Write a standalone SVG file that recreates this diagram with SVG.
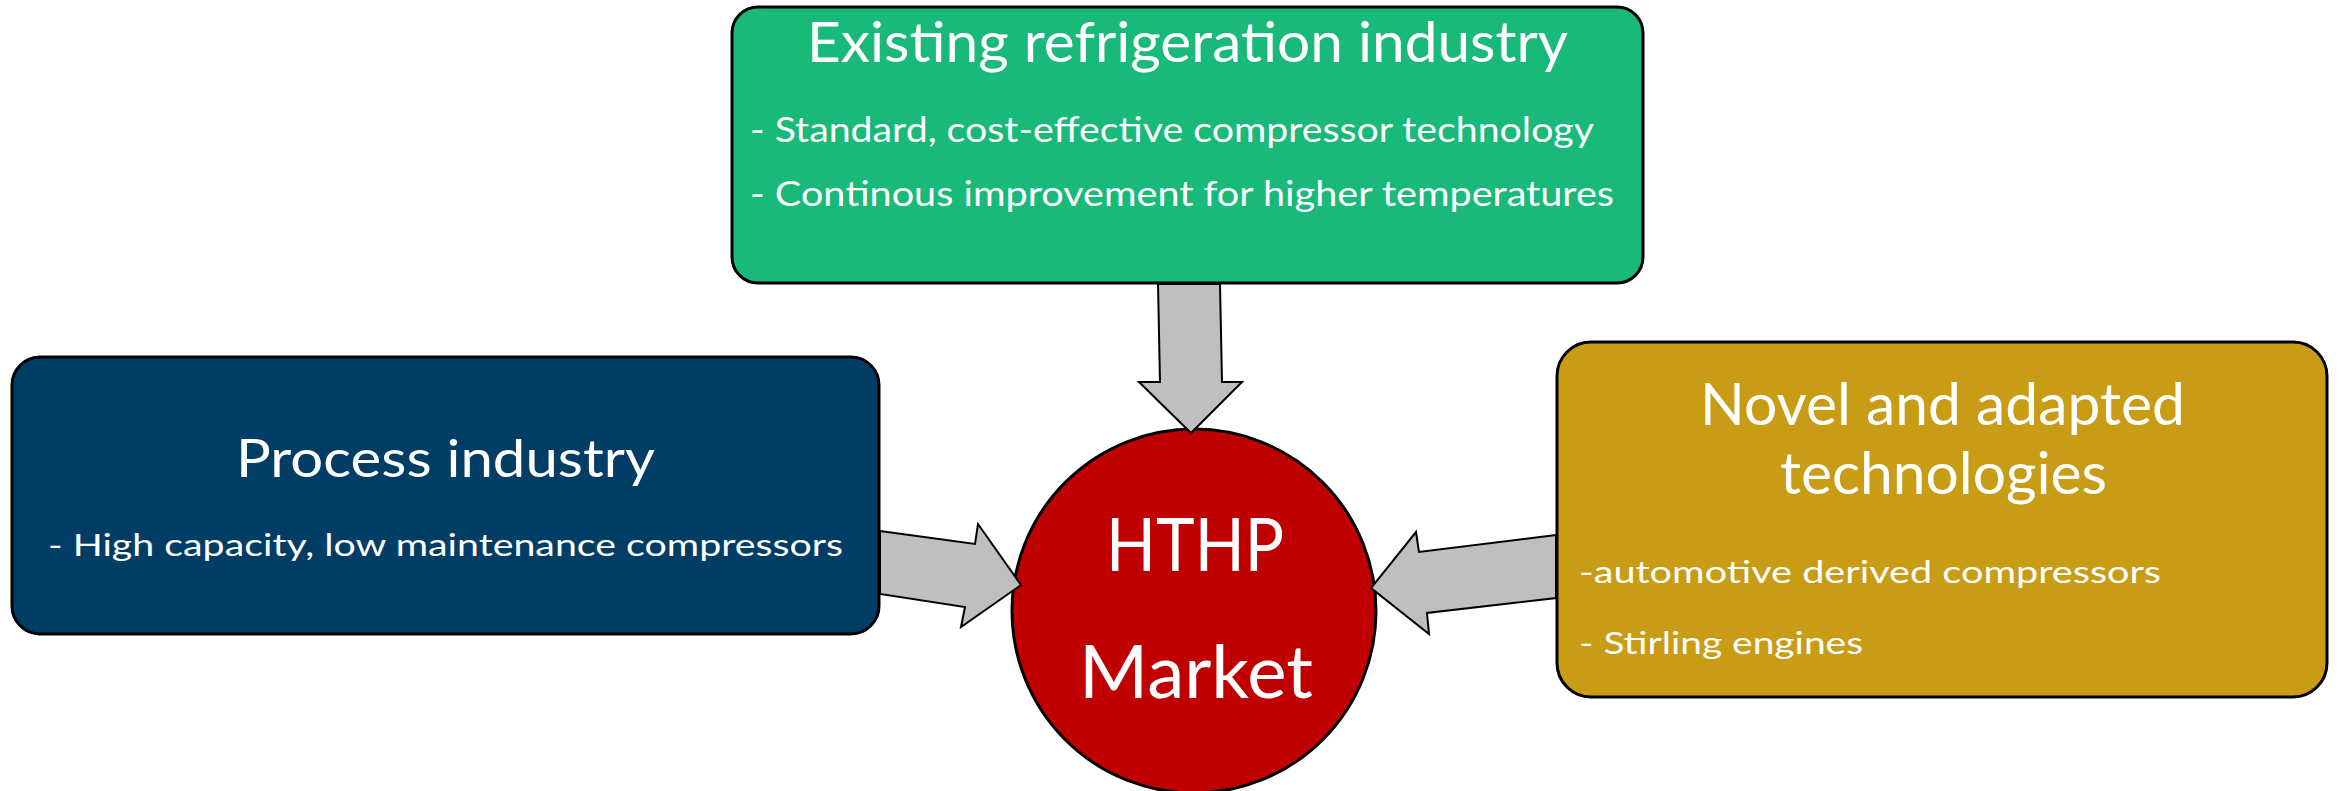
<svg xmlns="http://www.w3.org/2000/svg" width="2339" height="791" viewBox="0 0 2339 791">
<style>
.box{stroke:#000;stroke-width:3}
.t{font-family:Lato,"Open Sans","Liberation Sans",sans-serif;fill:#fff}
.c{text-anchor:middle}
.arrow{fill:#BFBFBF;stroke:#000;stroke-width:2;stroke-linejoin:miter}
</style>
<rect width="2339" height="791" fill="#fff"/>
<g id="node-market">
<circle cx="1194" cy="611" r="182" fill="#C00000" class="box"/>
<text class="t c" x="1195" y="571" font-size="74" textLength="178" lengthAdjust="spacingAndGlyphs">HTHP</text>
<text class="t c" x="1196" y="698" font-size="74" textLength="234" lengthAdjust="spacingAndGlyphs">Market</text>
</g>
<g id="node-refrigeration">
<rect class="box" x="732" y="7" width="911" height="276" rx="26" fill="#19B97A"/>
<text class="t c" x="1187.5" y="62" font-size="56" textLength="761" lengthAdjust="spacingAndGlyphs">Existing refrigeration industry</text>
<text class="t" x="750" y="142" font-size="35" textLength="844" lengthAdjust="spacingAndGlyphs">- Standard, cost-effective compressor technology</text>
<text class="t" x="750" y="206" font-size="35" textLength="864" lengthAdjust="spacingAndGlyphs">- Continous improvement for higher temperatures</text>
</g>
<g id="node-process">
<rect class="box" x="12" y="357" width="867" height="277" rx="28" fill="#023D66"/>
<text class="t c" x="445.5" y="477" font-size="53" textLength="419" lengthAdjust="spacingAndGlyphs">Process industry</text>
<text class="t" x="48" y="556" font-size="30" textLength="795" lengthAdjust="spacingAndGlyphs">- High capacity, low maintenance compressors</text>
</g>
<g id="node-novel">
<rect class="box" x="1557" y="342" width="770" height="355" rx="34" fill="#C89C15"/>
<text class="t c" x="1942.5" y="425" font-size="58" textLength="485" lengthAdjust="spacingAndGlyphs">Novel and adapted</text>
<text class="t c" x="1943.5" y="494" font-size="58" textLength="327" lengthAdjust="spacingAndGlyphs">technologies</text>
<text class="t" x="1579" y="583" font-size="31" textLength="582" lengthAdjust="spacingAndGlyphs">-automotive derived compressors</text>
<text class="t" x="1579" y="654" font-size="31" textLength="284" lengthAdjust="spacingAndGlyphs">- Stirling engines</text>
</g>
<g id="connectors">
<polygon class="arrow" points="1158,284 1160,382 1139,382 1191,433 1242,382 1222,382 1220,284"/>
<polygon class="arrow" points="880,531 975,544 978,524 1021,585 961,627 965,607 880,594"/>
<polygon class="arrow" points="1556,535 1419,552 1416,532 1371,588 1429,634 1427,613 1556,598"/>
</g>
</svg>
